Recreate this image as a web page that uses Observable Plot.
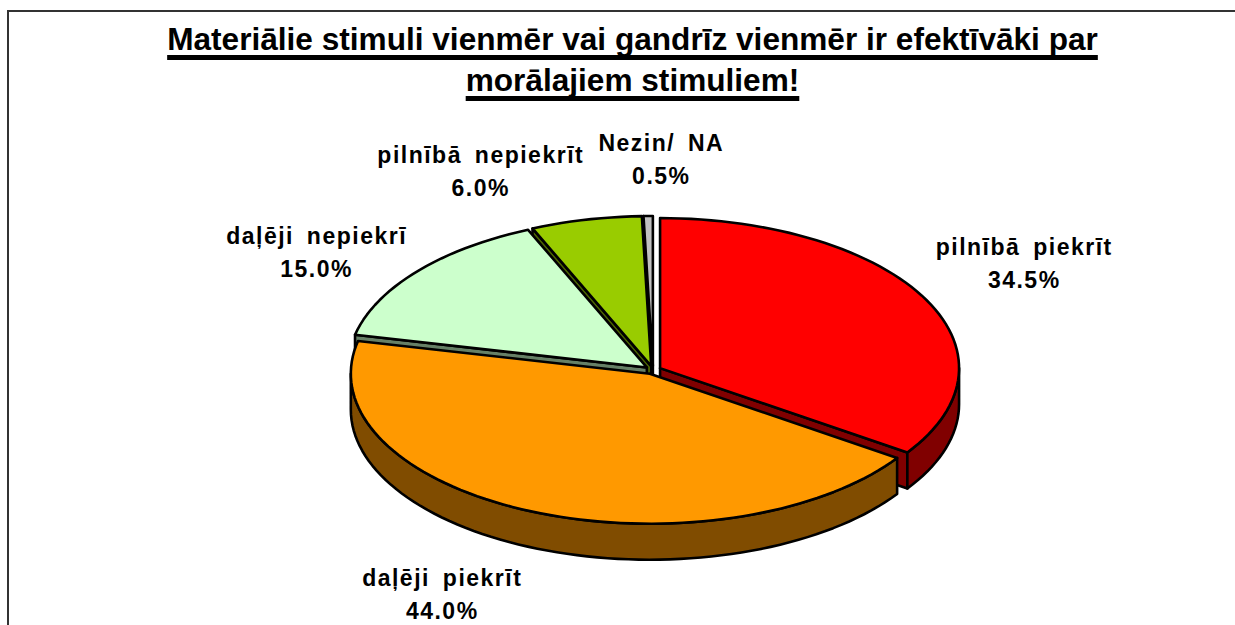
<!DOCTYPE html>
<html><head><meta charset="utf-8">
<script src="https://cdn.jsdelivr.net/npm/d3@7"></script>
<script src="https://cdn.jsdelivr.net/npm/@observablehq/plot@0.6"></script>
<style>
html,body{margin:0;padding:0;background:#fff;overflow:hidden;width:1235px;height:625px}
#frame{position:absolute;left:7px;top:10px;width:1240px;height:640px;border:2px solid #333;border-right:none;box-sizing:border-box}
#title{position:absolute;left:0;top:19px;width:1265px;text-align:center;margin:0;font:bold 31.6px/41px "Liberation Sans",Arial,sans-serif;color:#000;text-decoration:underline;text-decoration-thickness:5px;text-underline-offset:5px;text-decoration-skip-ink:none}
#chart{position:absolute;left:0;top:110px}
#chart svg{display:block}
</style></head><body>
<div id="frame"></div>
<h1 id="title">Materiālie stimuli vienmēr vai gandrīz vienmēr ir efektīvāki par<br>morālajiem stimuliem!</h1>
<div id="chart"></div>
<script>
const categories = ["pilnībā piekrīt","daļēji piekrīt","daļēji nepiekrī","pilnībā nepiekrīt","Nezin/ NA"];
const shares = [34.5,44.0,15.0,6.0,0.5];
const topColors = ["#FF0000","#FF9900","#CCFFCC","#99CC00","#C0C0C0"];
const wallColors = ["#800000","#804C00","#668066","#4C6600","#606060"];

const deg = Math.PI/180, explode = 8/299, depth = 36/150;
const labelNudge = [[107,-39],[-92,84],[-106,-24],[-107,-55],[13,-63]];
let acc = 0;
const slices = categories.map((name,i)=>{
  const a0 = acc*3.6; acc += shares[i]; const a1 = acc*3.6; const mid=(a0+a1)/2;
  return {i,name,share:shares[i],a0,a1,mid,
    ox:explode*Math.sin(mid*deg), oy:explode*Math.cos(mid*deg)};
});
const pt=(s,a,drop=0)=>({x:s.ox+Math.sin(a*deg),y:s.oy+Math.cos(a*deg)-drop});
const arc=(s,a,b,drop=0)=>{const n=Math.max(1,Math.ceil(Math.abs(b-a)/2));return d3.range(n+1).map(k=>pt(s,a+(b-a)*k/n,drop));};
const apex=(s,drop=0)=>({x:s.ox,y:s.oy-drop});
const closed=p=>[...p,p[0]];
function piece(pts,fill){return Plot.line(closed(pts),{x:"x",y:"y",fill,stroke:"#000",strokeWidth:2.6,strokeLinejoin:"round"});}
function sliceMarks(s){
  const m=[],wall=wallColors[s.i];
  const face=a=>[apex(s),pt(s,a),pt(s,a,depth),apex(s,depth)];
  if(Math.sin(s.a0*deg)<-1e-6) m.push(piece(face(s.a0),wall));
  if(Math.sin(s.a1*deg)>1e-6) m.push(piece(face(s.a1),wall));
  const r0=Math.max(s.a0,90), r1=Math.min(s.a1,270);
  if(r1>r0) m.push(piece([...arc(s,r0,r1),...arc(s,r1,r0,depth)],wall));
  m.push(piece([apex(s),...arc(s,s.a0,s.a1)],topColors[s.i]));
  return m;
}
const paintOrder=[4,3,2,0,1];
const labelMarks=slices.map(s=>Plot.text([s],{
  x:d=>Math.sin(d.mid*deg), y:d=>Math.cos(d.mid*deg),
  text:d=>d.name+"\n"+d.share.toFixed(1)+"%",
  dx:labelNudge[s.i][0], dy:labelNudge[s.i][1],
  fontSize:23, fontWeight:"bold", fontFamily:"'Liberation Sans',Arial,sans-serif",
  fill:"#000", lineHeight:1.43, textAnchor:"middle"
}));
const chart=Plot.plot({
  width:1235,height:515,margin:0,
  style:{background:"transparent",letterSpacing:"1.5px",wordSpacing:"5px",overflow:"visible"},
  x:{domain:[-1,1],range:[353.5,951.5],axis:null},
  y:{domain:[-1,1],range:[409.5,109.5],axis:null},
  marks:[...paintOrder.flatMap(i=>sliceMarks(slices[i])),...labelMarks]
});
document.getElementById("chart").append(chart);
</script>
</body></html>
